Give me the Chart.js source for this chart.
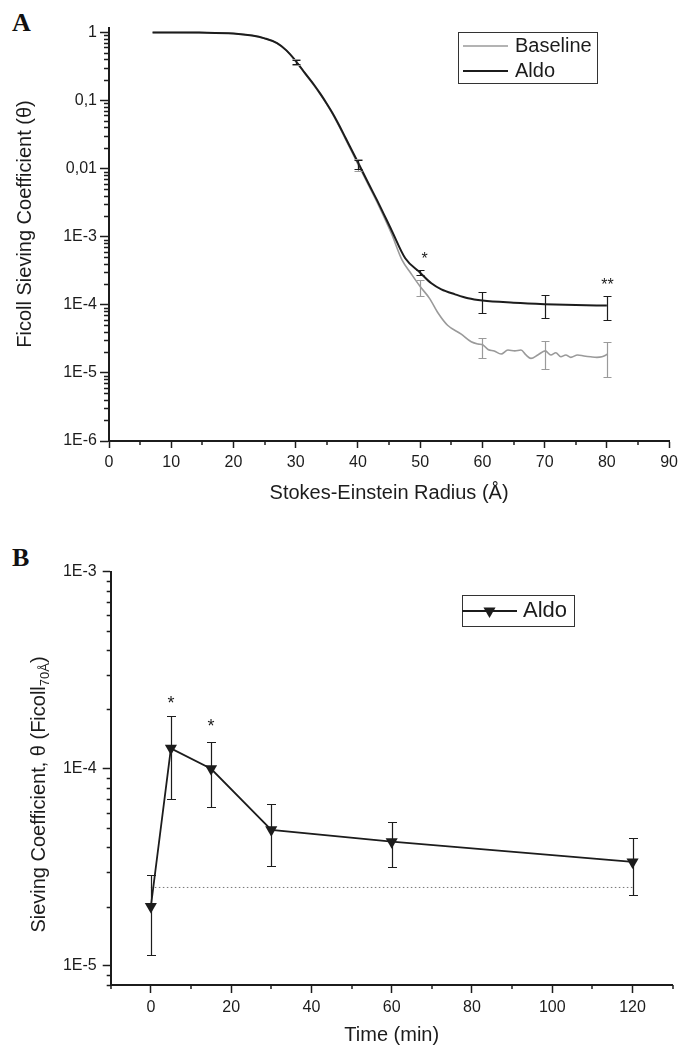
<!DOCTYPE html>
<html>
<head>
<meta charset="utf-8">
<title>Ficoll sieving coefficients</title>
<script src="https://cdn.jsdelivr.net/npm/chart.js@4/dist/chart.umd.min.js"></script>
<style>
  html, body { margin: 0; padding: 0; background: #fff; }
  body { width: 683px; height: 1047px; position: relative; overflow: hidden; }
  canvas { position: absolute; left: 0; }
  #chartA { top: 0; }
  #chartB { top: 530px; }
  .tag { position: absolute; left: 12px; font: bold 26px/26px 'Liberation Serif', 'Times New Roman', serif; color: #111; }
</style>
</head>
<body>
<div class="tag" style="top:10px">A</div>
<div class="tag" style="top:545px">B</div>
<canvas id="chartA" width="683" height="520"></canvas>
<canvas id="chartB" width="683" height="517"></canvas>
<script>
// Panel A: sieving curves, Stokes-Einstein radius (Å) vs theta
const aldoRadius = [7, 10, 14.5, 20, 23, 25, 27, 28.5, 30, 31.5, 33, 34, 35, 36, 37, 38, 40, 41.7, 43.3, 45.4, 47.6,
  50, 51.8, 53.4, 55.6, 57.7, 60, 65, 70, 75, 80];
const aldoTheta = [0.99, 0.99, 0.985, 0.955, 0.89, 0.81, 0.69, 0.54, 0.38, 0.25, 0.166, 0.123, 0.089, 0.063, 0.0427,
  0.0282, 0.0123, 0.006, 0.0031, 0.00124, 4.8e-4, 2.95e-4, 2.06e-4, 1.68e-4, 1.42e-4, 1.24e-4, 1.15e-4, 1.07e-4,
  1.02e-4, 9.9e-5, 9.7e-5];

const baselineRadius = [7, 10, 14.5, 20, 23, 25, 27, 28.5, 30, 31.5, 33, 34, 35, 36, 37, 38, 40, 41.7, 43.3, 45.4,
  47.1, 48.5, 50, 51.5, 52.9, 54.4, 56.6, 58.2, 59.3, 60.1, 60.9, 61.9, 63, 64.1, 65.2, 66.2, 67, 67.8, 68.9, 70.1,
  71, 71.8, 72.6, 73.4, 74.2, 75.3, 76.3, 77.4, 78.4, 79.2, 80.1];
const baselineTheta = [0.99, 0.99, 0.985, 0.955, 0.89, 0.81, 0.69, 0.54, 0.375, 0.245, 0.162, 0.12, 0.087, 0.061,
  0.041, 0.027, 0.0116, 0.0057, 0.0029, 0.0011, 4.5e-4, 2.9e-4, 1.85e-4, 1.24e-4, 7.5e-5, 5.0e-5, 3.7e-5, 2.86e-5,
  2.65e-5, 2.57e-5, 2.2e-5, 2.1e-5, 1.89e-5, 2.16e-5, 2.1e-5, 2.16e-5, 1.83e-5, 1.63e-5, 1.83e-5, 2.1e-5, 1.83e-5,
  1.97e-5, 1.72e-5, 1.83e-5, 1.69e-5, 1.83e-5, 1.77e-5, 1.72e-5, 1.69e-5, 1.72e-5, 1.87e-5];

// error bars (radius where measured, low / high theta)
const barRadius = [30, 40, 50, 60, 70, 80];
const aldoLow = [0.345, 0.0098, 2.72e-4, 7.5e-5, 6.45e-5, 5.96e-5];
const aldoHigh = [0.39, 0.0133, 3.24e-4, 1.52e-4, 1.4e-4, 1.34e-4];
const baselineLow = [0.33, 0.0092, 1.32e-4, 1.67e-5, 1.15e-5, 8.8e-6];
const baselineHigh = [0.41, 0.0136, 2.3e-4, 3.2e-5, 2.96e-5, 2.8e-5];

const radiusTicks = [0, 10, 20, 30, 40, 50, 60, 70, 80, 90];
const thetaTicks = [1e-6, 1e-5, 1e-4, 1e-3, 0.01, 0.1, 1];
const thetaTickLabels = ['1E-6', '1E-5', '1E-4', '1E-3', '0,01', '0,1', '1'];

const starsA = ['*', '**'];
const starsARadius = [50.7, 80.1];
const starsATheta = [5.2e-4, 2.17e-4];

// Panel B: Ficoll 70Å sieving over time
const timeMin = [0, 5, 15, 30, 60, 120];
const aldoTime = [2.0e-5, 1.27e-4, 1.0e-4, 4.9e-5, 4.27e-5, 3.37e-5];
const aldoTimeLow = [1.13e-5, 7.0e-5, 6.4e-5, 3.2e-5, 3.16e-5, 2.3e-5];
const aldoTimeHigh = [2.9e-5, 1.85e-4, 1.37e-4, 6.6e-5, 5.37e-5, 4.46e-5];
const baselineSpan = [0, 120];
const baselineLevel = [2.5e-5, 2.5e-5];

const timeTicks = [0, 20, 40, 60, 80, 100, 120];
const sieveTicks = [1e-5, 1e-4, 1e-3];
const sieveTickLabels = ['1E-5', '1E-4', '1E-3'];

const starsB = ['*', '*'];
const starsBTime = [5, 15];
const starsBTheta = [2.23e-4, 1.7e-4];

const FONT = "'Liberation Sans', Arial, Helvetica, sans-serif";
const INK = '#1c1c1c';
const GREY = '#9a9a9a';

function pts(xs, ys) {
  return xs.map((x, i) => ({ x, y: ys[i] }));
}

// small ticks between the labelled ones
const minorTicks = {
  id: 'minorTicks',
  afterDraw(chart, args, o) {
    const { ctx, scales: { x, y } } = chart;
    ctx.save();
    ctx.strokeStyle = INK;
    ctx.lineWidth = 1.5;
    ctx.beginPath();
    for (let v = x.min; v <= x.max + 1e-9; v += o.xStep) {
      if (x.ticks.some(t => Math.abs(t.value - v) < 1e-9)) continue;
      const px = Math.round(x.getPixelForValue(v));
      ctx.moveTo(px, y.bottom);
      ctx.lineTo(px, y.bottom + o.xLen);
    }
    const lo = Math.floor(Math.log10(y.min));
    const hi = Math.ceil(Math.log10(y.max));
    for (let d = lo; d <= hi; d++) {
      for (let k = 2; k <= 9; k++) {
        const v = k * Math.pow(10, d);
        if (v < y.min || v > y.max) continue;
        const py = Math.round(y.getPixelForValue(v)) + 0.5;
        ctx.moveTo(x.left, py);
        ctx.lineTo(x.left - o.yLen, py);
      }
    }
    ctx.stroke();
    ctx.restore();
  }
};

const errorBars = {
  id: 'errorBars',
  afterDatasetsDraw(chart, args, o) {
    const { ctx, scales: { x, y } } = chart;
    ctx.save();
    o.sets.forEach(set => {
      ctx.strokeStyle = set.color;
      ctx.lineWidth = 1.2;
      ctx.beginPath();
      set.at.forEach((v, i) => {
        const px = Math.round(x.getPixelForValue(v)) + 0.5;
        const top = Math.round(y.getPixelForValue(set.high[i])) + 0.5;
        const bot = Math.round(y.getPixelForValue(set.low[i])) + 0.5;
        ctx.moveTo(px, top); ctx.lineTo(px, bot);
        ctx.moveTo(px - o.cap, top); ctx.lineTo(px + o.cap, top);
        ctx.moveTo(px - o.cap, bot); ctx.lineTo(px + o.cap, bot);
      });
      ctx.stroke();
    });
    ctx.restore();
  }
};

const stars = {
  id: 'stars',
  afterDatasetsDraw(chart, args, o) {
    const { ctx, scales: { x, y } } = chart;
    ctx.save();
    ctx.fillStyle = INK;
    ctx.font = `${o.size}px ${FONT}`;
    ctx.textAlign = 'center';
    ctx.textBaseline = 'middle';
    o.text.forEach((t, i) => {
      ctx.fillText(t, x.getPixelForValue(o.at[i]), y.getPixelForValue(o.val[i]) + 0.23 * o.size);
    });
    ctx.restore();
  }
};

const legendBox = {
  id: 'legendBox',
  afterDraw(chart, args, o) {
    const ctx = chart.ctx;
    const items = chart.data.datasets.filter(d => d.label);
    ctx.save();
    ctx.strokeStyle = '#333';
    ctx.lineWidth = 1;
    ctx.strokeRect(o.left + 0.5, o.top + 0.5, o.width, o.height);
    ctx.font = `${o.size}px ${FONT}`;
    ctx.textBaseline = 'middle';
    o.order.forEach((idx, row) => {
      const d = items[idx];
      const yy = o.top + o.firstRow + row * o.rowH;
      ctx.strokeStyle = d.borderColor;
      ctx.lineWidth = d.borderWidth;
      ctx.beginPath();
      ctx.moveTo(o.left + o.lineFrom, yy);
      ctx.lineTo(o.left + o.lineTo, yy);
      ctx.stroke();
      if (d.pointRadius > 0) {
        ctx.fillStyle = d.pointBackgroundColor;
        Chart.helpers.drawPoint(ctx, { pointStyle: d.pointStyle, rotation: d.rotation, radius: d.pointRadius, borderWidth: 0 },
          o.left + (o.lineFrom + o.lineTo) / 2, yy);
      }
      ctx.fillStyle = INK;
      ctx.fillText(d.label, o.left + o.textX, yy);
    });
    ctx.restore();
  }
};

// rotated y title, with optional subscript
const yTitle = {
  id: 'yTitle',
  afterDraw(chart, args, o) {
    const ctx = chart.ctx;
    ctx.save();
    ctx.translate(o.x, o.y);
    ctx.rotate(-Math.PI / 2);
    ctx.fillStyle = INK;
    ctx.textBaseline = 'middle';
    ctx.textAlign = 'left';
    const big = `${o.size}px ${FONT}`;
    const small = `${Math.round(o.size * 0.65)}px ${FONT}`;
    ctx.font = big;
    const w1 = ctx.measureText(o.text).width;
    const w3 = o.tail ? ctx.measureText(o.tail).width : 0;
    ctx.font = small;
    const w2 = o.sub ? ctx.measureText(o.sub).width : 0;
    let cx = -(w1 + w2 + w3) / 2;
    ctx.font = big;
    ctx.fillText(o.text, cx, 0);
    cx += w1;
    if (o.sub) {
      ctx.font = small;
      ctx.fillText(o.sub, cx, o.size * 0.3);
      cx += w2;
    }
    if (o.tail) {
      ctx.font = big;
      ctx.fillText(o.tail, cx, 0);
    }
    ctx.restore();
  }
};

function axisX(min, max, tickList, tickLen, labelPad, fitHeight, title, titlePad) {
  return {
    type: 'linear', min, max,
    afterBuildTicks: s => { s.ticks = tickList.map(v => ({ value: v })); },
    afterFit: s => { s.height = fitHeight; },
    grid: { drawOnChartArea: false, drawTicks: true, tickLength: tickLen, tickWidth: 1.5, tickColor: INK },
    border: { display: true, color: INK, width: 2 },
    ticks: { color: INK, font: { size: 16, family: FONT }, padding: labelPad, maxRotation: 0, autoSkip: false },
    title: { display: true, text: title, color: INK, font: { size: 20, family: FONT }, padding: { top: 0, bottom: titlePad } }
  };
}

function axisY(min, max, tickList, labels, tickLen, labelPad, fitWidth) {
  return {
    type: 'logarithmic', min, max,
    afterBuildTicks: s => { s.ticks = tickList.map(v => ({ value: v })); },
    afterFit: s => { s.width = fitWidth; },
    grid: { drawOnChartArea: false, drawTicks: true, tickLength: tickLen, tickWidth: 1.5, tickColor: INK },
    border: { display: true, color: INK, width: 2 },
    ticks: { color: INK, font: { size: 16, family: FONT }, padding: labelPad, autoSkip: false,
      callback: (v, i) => labels[i] }
  };
}

new Chart(document.getElementById('chartA'), {
  type: 'scatter',
  data: {
    datasets: [
      { label: 'Baseline', data: pts(baselineRadius, baselineTheta), showLine: true, borderColor: GREY,
        borderWidth: 1.6, pointRadius: 0, cubicInterpolationMode: 'monotone', order: 1 },
      { label: 'Aldo', data: pts(aldoRadius, aldoTheta), showLine: true, borderColor: INK,
        borderWidth: 2, pointRadius: 0, cubicInterpolationMode: 'monotone', order: 0 }
    ]
  },
  options: {
    responsive: false,
    animation: false,
    events: [],
    layout: { padding: { left: 0, top: 28, right: 11, bottom: 0 } },
    scales: {
      x: axisX(0, 90, radiusTicks, 7, 5, 79, 'Stokes-Einstein Radius (Å)', 15),
      y: axisY(1e-6, 1.15, thetaTicks, thetaTickLabels, 9, 3, 109)
    },
    plugins: {
      legend: { display: false },
      tooltip: { enabled: false },
      minorTicks: { xStep: 5, xLen: 4, yLen: 5 },
      errorBars: { cap: 4, sets: [
        { at: barRadius, low: baselineLow, high: baselineHigh, color: GREY },
        { at: barRadius, low: aldoLow, high: aldoHigh, color: INK }
      ] },
      stars: { size: 16, text: starsA, at: starsARadius, val: starsATheta },
      legendBox: { left: 458, top: 32, width: 139, height: 51, firstRow: 14, rowH: 25, lineFrom: 5,
        lineTo: 50, textX: 57, size: 20, order: [0, 1] },
      yTitle: { x: 25, y: 224, size: 20, text: 'Ficoll Sieving Coefficient (θ)' }
    }
  },
  plugins: [minorTicks, errorBars, stars, legendBox, yTitle]
});

new Chart(document.getElementById('chartB'), {
  type: 'scatter',
  data: {
    datasets: [
      { label: 'Aldo', data: pts(timeMin, aldoTime), showLine: true, borderColor: INK, borderWidth: 1.8,
        pointStyle: 'triangle', rotation: 180, pointRadius: 7, pointBorderWidth: 0,
        pointBackgroundColor: INK, order: 0 },
      { data: pts(baselineSpan, baselineLevel), showLine: true, borderColor: '#777', borderWidth: 1,
        borderDash: [1.5, 2.5], pointRadius: 0, order: 1 }
    ]
  },
  options: {
    responsive: false,
    animation: false,
    events: [],
    layout: { padding: { left: 0, top: 41.7, right: 10.3, bottom: 0 } },
    scales: {
      x: axisX(-10, 130, timeTicks, 8, 5, 62, 'Time (min)', 0),
      y: axisY(8e-6, 1e-3, sieveTicks, sieveTickLabels, 8, 6, 110.7)
    },
    plugins: {
      legend: { display: false },
      tooltip: { enabled: false },
      minorTicks: { xStep: 10, xLen: 4, yLen: 4 },
      errorBars: { cap: 4.5, sets: [
        { at: timeMin, low: aldoTimeLow, high: aldoTimeHigh, color: INK }
      ] },
      stars: { size: 18, text: starsB, at: starsBTime, val: starsBTheta },
      legendBox: { left: 462, top: 65, width: 112, height: 31, firstRow: 16, rowH: 25, lineFrom: 0,
        lineTo: 55, textX: 61, size: 22, order: [0] },
      yTitle: { x: 39, y: 264.5, size: 20, text: 'Sieving Coefficient, θ (Ficoll', sub: '70Å', tail: ')' }
    }
  },
  plugins: [minorTicks, errorBars, stars, legendBox, yTitle]
});
</script>
</body>
</html>
